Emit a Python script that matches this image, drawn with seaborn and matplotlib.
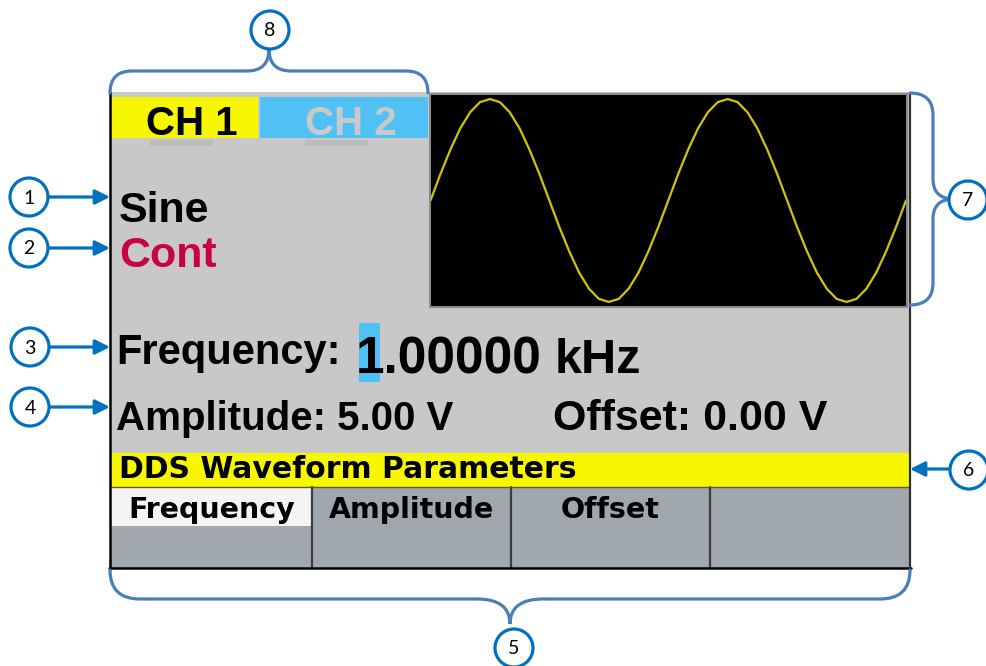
import numpy as np
import pandas as pd
import matplotlib.pyplot as plt
import seaborn as sns
from matplotlib.patches import Rectangle, Circle, PathPatch
from matplotlib.path import Path

# screen contents
channel_labels = ["CH 1", "CH 2"]
waveform_shape = "Sine"
trigger_mode = "Cont"
frequency_label = "Frequency:"
frequency_value = "1.00000"
frequency_unit = "kHz"
amplitude_text = "Amplitude: 5.00 V"
offset_text = "Offset: 0.00 V"
status_title = "DDS Waveform Parameters"
softkey_labels = ["Frequency", "Amplitude", "Offset", ""]
callout_numbers = ["1", "2", "3", "4", "5", "6", "7", "8"]

# waveform trace (normalised level, 2 cycles)
trace_level = [0.00, 0.26, 0.50, 0.71, 0.87, 0.97, 1.00, 0.97, 0.87, 0.71, 0.50, 0.26,
               0.00, -0.26, -0.50, -0.71, -0.87, -0.97, -1.00, -0.97, -0.87, -0.71, -0.50, -0.26,
               0.00, 0.26, 0.50, 0.71, 0.87, 0.97, 1.00, 0.97, 0.87, 0.71, 0.50, 0.26,
               0.00, -0.26, -0.50, -0.71, -0.87, -0.97, -1.00, -0.97, -0.87, -0.71, -0.50, -0.26,
               0.00]

sns.set_style("white")
BOLD = ["Liberation Sans", "DejaVu Sans"]
SMALL = ["DejaVu Sans"]
BLUE = "#0070c0"
BRACE = "#4a7ebb"
YELLOW = "#f7f700"
TAB_BLUE = "#4fc1f5"
SCREEN = "#c8c8c8"
KEY = "#a0a7ad"

W, H = 987, 666
fig = plt.figure(figsize=(W / 100, H / 100), dpi=100)
ax = fig.add_axes([0, 0, 1, 1])
ax.set_xlim(0, W)
ax.set_ylim(H, 0)
ax.axis("off")

def rect(x0, y0, x1, y1, color, z=1):
    ax.add_patch(Rectangle((x0, y0), x1 - x0, y1 - y0, facecolor=color,
                           edgecolor="none", linewidth=0, zorder=z))

# screen body
rect(110, 92, 910, 568, SCREEN, z=0)
rect(111, 97, 258, 138, YELLOW)
rect(260, 97, 428, 138, TAB_BLUE)
rect(150, 140, 213, 146, "#bcbcbc")
rect(305, 140, 368, 146, "#bcbcbc")
rect(111, 453, 910, 487, YELLOW)

# softkeys
key_edges = [111, 312, 511, 710, 910]
for i, lab in enumerate(softkey_labels):
    rect(key_edges[i], 487, key_edges[i + 1], 568, KEY)
    if i == 0:
        rect(key_edges[0], 487, key_edges[1] - 1, 526, "#f4f4f4", z=1.5)
    if lab:
        ax.text((key_edges[i] + key_edges[i + 1]) / 2, 518, lab, ha="center", va="baseline",
                fontsize=20.5, fontweight="bold", family=SMALL, color="black", zorder=3)
for xe in key_edges[1:-1]:
    ax.plot([xe, xe], [487, 568], color="#3c3c3c", lw=1.6, zorder=2)
ax.plot([111, 910], [487, 487], color="#5a5a3a", lw=1.0, zorder=2)

# frame lines
ax.plot([110, 110], [92, 569], color="black", lw=1.8, zorder=4)
ax.plot([109, 911], [568, 568], color="black", lw=1.8, zorder=4)
ax.plot([910, 910], [93, 569], color="#303030", lw=1.6, zorder=4)

# channel tabs
ax.text(192, 135, channel_labels[0], ha="center", va="baseline", fontsize=29,
        fontweight="bold", family=BOLD, color="black", zorder=3)
ax.text(351, 135, channel_labels[1], ha="center", va="baseline", fontsize=29,
        fontweight="bold", family=BOLD, color="#c9c9c9", zorder=3)

ax.text(119, 222, waveform_shape, ha="left", va="baseline", fontsize=31,
        fontweight="bold", family=BOLD, color="black", zorder=3)
ax.text(119, 267, trigger_mode, ha="left", va="baseline", fontsize=31,
        fontweight="bold", family=BOLD, color="#c8004a", zorder=3)

# parameter lines
rect(359, 323, 380, 382, TAB_BLUE, z=2)
ax.text(116, 364, frequency_label, ha="left", va="baseline", fontsize=30,
        fontweight="bold", family=BOLD, color="black", zorder=3)
ax.text(356, 373, frequency_value, ha="left", va="baseline", fontsize=37,
        fontweight="bold", family=BOLD, color="black", zorder=3)
ax.text(555, 373, frequency_unit, ha="left", va="baseline", fontsize=35,
        fontweight="bold", family=BOLD, color="black", zorder=3)
ax.text(116, 430, amplitude_text, ha="left", va="baseline", fontsize=29,
        fontweight="bold", family=BOLD, color="black", zorder=3)
ax.text(553, 430, offset_text, ha="left", va="baseline", fontsize=31,
        fontweight="bold", family=BOLD, color="black", zorder=3)
ax.text(119, 478, status_title, ha="left", va="baseline", fontsize=21.5,
        fontweight="bold", family=SMALL, color="black", zorder=3)

# waveform preview window
ax_tr = fig.add_axes([430 / W, 1 - 307 / H, 477 / W, 213 / H])
trace = pd.DataFrame({"sample": np.arange(len(trace_level)), "level": trace_level})
sns.lineplot(data=trace, x="sample", y="level", ax=ax_tr, color="#d2c600", lw=1.6)
ax_tr.set_facecolor("black")
ax_tr.set_xlim(-0.05, len(trace_level) - 0.9)
ax_tr.set_ylim(-1.05, 1.05)
ax_tr.set_xticks([])
ax_tr.set_yticks([])
ax_tr.set_xlabel("")
ax_tr.set_ylabel("")
for s in ax_tr.spines.values():
    s.set_color("#8a8a8a")
    s.set_linewidth(1.5)

# braces
def hbrace(x0, x1, y_end, y_bar, y_tip, r, rt):
    xm = (x0 + x1) / 2
    verts = [(x0, y_end), (x0, y_bar), (x0 + r, y_bar),
             (xm - rt, y_bar), (xm, y_bar), (xm, y_tip),
             (xm, y_bar), (xm + rt, y_bar),
             (x1 - r, y_bar), (x1, y_bar), (x1, y_end)]
    codes = [Path.MOVETO, Path.CURVE3, Path.CURVE3,
             Path.LINETO, Path.CURVE3, Path.CURVE3,
             Path.CURVE3, Path.CURVE3,
             Path.LINETO, Path.CURVE3, Path.CURVE3]
    ax.add_patch(PathPatch(Path(verts, codes), fill=False, edgecolor=BRACE, lw=2.3,
                           capstyle="round", zorder=5))

def vbrace(y0, y1, x_end, x_bar, x_tip, r, rt):
    ym = (y0 + y1) / 2
    verts = [(x_end, y0), (x_bar, y0), (x_bar, y0 + r),
             (x_bar, ym - rt), (x_bar, ym), (x_tip, ym),
             (x_bar, ym), (x_bar, ym + rt),
             (x_bar, y1 - r), (x_bar, y1), (x_end, y1)]
    codes = [Path.MOVETO, Path.CURVE3, Path.CURVE3,
             Path.LINETO, Path.CURVE3, Path.CURVE3,
             Path.CURVE3, Path.CURVE3,
             Path.LINETO, Path.CURVE3, Path.CURVE3]
    ax.add_patch(PathPatch(Path(verts, codes), fill=False, edgecolor=BRACE, lw=2.3,
                           capstyle="round", zorder=5))

hbrace(110, 428, 93, 71, 49, 22, 22)
hbrace(110, 910, 570, 599, 624, 30, 33)
vbrace(93, 305, 910, 933, 954, 22, 20)

# callouts
def callout(num, cx, cy, r=19):
    ax.add_patch(Circle((cx, cy), r, facecolor="white", edgecolor=BLUE, lw=2.3, zorder=6))
    ax.text(cx, cy + 1, num, ha="center", va="center", fontsize=14, family=["Lato", "DejaVu Sans"],
            color="black", zorder=7)

def arrow(x0, x1, y):
    ax.annotate("", xy=(x1, y), xytext=(x0, y),
                arrowprops=dict(arrowstyle="-|>", color=BLUE, lw=2.3, mutation_scale=22,
                                shrinkA=0, shrinkB=0), zorder=5)

arrow(48, 110, 197)
arrow(48, 110, 248)
arrow(49, 110, 347)
arrow(49, 110, 407)
arrow(950, 910, 469)

callout(callout_numbers[0], 29, 197)
callout(callout_numbers[1], 29, 248)
callout(callout_numbers[2], 30, 347)
callout(callout_numbers[3], 30, 407)
callout(callout_numbers[4], 514, 648)
callout(callout_numbers[5], 969, 470)
callout(callout_numbers[6], 968, 200)
callout(callout_numbers[7], 270, 30)

fig.savefig("out.png", dpi=100, facecolor="white")
